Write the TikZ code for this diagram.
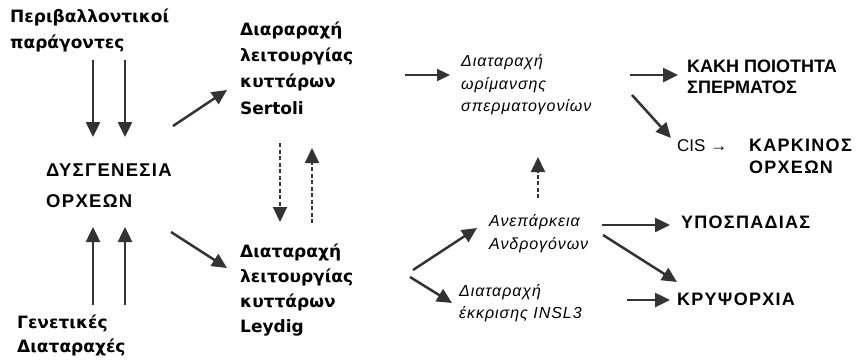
\documentclass[tikz,border=0pt]{standalone}
\usepackage{fontspec}
\setmainfont{Liberation Sans}
\newfontfamily\gothic{DejaVu Sans}
\newfontfamily\spaced{Liberation Sans}[LetterSpace=7]
\newfontfamily\spit{Liberation Sans}[LetterSpace=6]
\usetikzlibrary{arrows.meta}
\definecolor{ink}{HTML}{333333}
\begin{document}
\begin{tikzpicture}[x=1pt,y=-1pt,
  arr/.style={draw=ink,line width=2.5pt,-{Triangle[length=15pt,width=14pt]}},
  darr/.style={draw=ink,line width=2pt,dash pattern=on 4pt off 2.5pt,-{Triangle[length=15pt,width=14pt]}},
  gtxt/.style={anchor=west,align=left,inner sep=0pt,font=\gothic\bfseries\fontsize{17}{26}\selectfont},
  btxt/.style={anchor=west,align=left,inner sep=0pt,font=\spaced\bfseries\fontsize{18}{22}\selectfont},
  itxt/.style={anchor=west,align=left,inner sep=0pt,font=\spit\itshape\fontsize{16}{22.5}\selectfont},
]
\useasboundingbox[fill=white] (0,0) rectangle (859,360);
% texts
\node[gtxt] (env) at (10,30) {Περιβαλλοντικοί\\παράγοντες};
\node[btxt,font=\spaced\bfseries\fontsize{18.5}{31}\selectfont] (dys) at (46,186) {ΔΥΣΓΕΝΕΣΙΑ\\ΟΡΧΕΩΝ};
\node[gtxt,font=\gothic\bfseries\fontsize{17}{24}\selectfont] (gen) at (17,335) {Γενετικές\\Διαταραχές};
\node[gtxt,font=\gothic\bfseries\fontsize{17}{26.3}\selectfont] (sert) at (240,68) {Διαραραχή\\λειτουργίας\\κυττάρων\\Sertoli};
\node[gtxt,font=\gothic\bfseries\fontsize{17}{25.3}\selectfont] (leyd) at (240,290) {Διαταραχή\\λειτουργίας\\κυττάρων\\Leydig};
\node[itxt] (mat) at (461,85) {Διαταραχή\\ωρίμανσης\\σπερματογονίων};
\node[btxt,font=\bfseries\fontsize{18}{21.5}\selectfont] (kaki) at (687,77) {ΚΑΚΗ ΠΟΙΟΤΗΤΑ\\ΣΠΕΡΜΑΤΟΣ};
\node[anchor=west,inner sep=0pt,font=\fontsize{17}{20}\selectfont] (cis) at (677,146) {CIS →};
\node[btxt] (kark) at (749,156) {ΚΑΡΚΙΝΟΣ\\ΟΡΧΕΩΝ};
\node[itxt,font=\spit\itshape\fontsize{16}{23}\selectfont] (anep) at (489,234) {Ανεπάρκεια\\Ανδρογόνων};
\node[itxt,font=\spit\itshape\fontsize{16}{21.5}\selectfont] (insl) at (459,303) {Διαταραχή\\έκκρισης INSL3};
\node[btxt] (hypo) at (681,222) {ΥΠΟΣΠΑΔΙΑΣ};
\node[btxt] (cryp) at (677,299) {ΚΡΥΨΟΡΧΙΑ};
% arrow end points
\coordinate (a1s) at (93,60);   \coordinate (a1t) at (93,137);
\coordinate (a2s) at (125,60);  \coordinate (a2t) at (125,137);
\coordinate (a3s) at (93,305);  \coordinate (a3t) at (93,227);
\coordinate (a4s) at (125,305); \coordinate (a4t) at (125,227);
\coordinate (a5s) at (173,126); \coordinate (a5t) at (227,90);
\coordinate (a6s) at (171,232); \coordinate (a6t) at (227,268);
\coordinate (a7s) at (280,143); \coordinate (a7t) at (280,222);
\coordinate (a8s) at (312,223); \coordinate (a8t) at (312,148);
\coordinate (a9s) at (405,75);  \coordinate (a9t) at (450,75);
\coordinate (b1s) at (630,75);  \coordinate (b1t) at (678,75);
\coordinate (b2s) at (632,95);  \coordinate (b2t) at (671,138);
\coordinate (b3s) at (538,198); \coordinate (b3t) at (538,157);
\coordinate (b4s) at (413,270); \coordinate (b4t) at (477,228);
\coordinate (b5s) at (410,277); \coordinate (b5t) at (452,303);
\coordinate (b6s) at (602,225); \coordinate (b6t) at (670,225);
\coordinate (b7s) at (603,235); \coordinate (b7t) at (677,282);
\coordinate (b8s) at (627,300); \coordinate (b8t) at (670,300);
% arrows
\draw[arr] (a1s) -- (a1t);
\draw[arr] (a2s) -- (a2t);
\draw[arr] (a3s) -- (a3t);
\draw[arr] (a4s) -- (a4t);
\draw[arr] (a5s) -- (a5t);
\draw[arr] (a6s) -- (a6t);
\draw[darr] (a7s) -- (a7t);
\draw[darr] (a8s) -- (a8t);
\draw[arr,line width=1.8pt,-{Triangle[length=13pt,width=12pt]}] (a9s) -- (a9t);
\draw[arr] (b1s) -- (b1t);
\draw[arr] (b2s) -- (b2t);
\draw[darr] (b3s) -- (b3t);
\draw[arr] (b4s) -- (b4t);
\draw[arr] (b5s) -- (b5t);
\draw[arr] (b6s) -- (b6t);
\draw[arr] (b7s) -- (b7t);
\draw[arr] (b8s) -- (b8t);
\end{tikzpicture}
\end{document}
